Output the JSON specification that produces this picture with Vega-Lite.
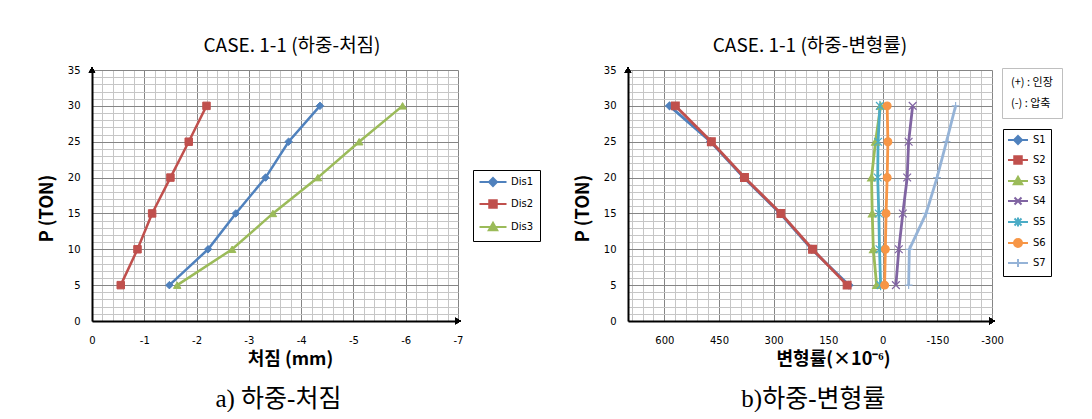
{
  "$schema": "https://vega.github.io/schema/vega-lite/v6.json",
  "background": "white",
  "padding": {"left": 38, "top": 37, "right": 0, "bottom": 0},
  "spacing": 33,
  "resolve": {
    "scale": {"color": "independent", "stroke": "independent", "shape": "independent", "x": "independent", "y": "independent"},
    "legend": {"color": "independent", "stroke": "independent", "shape": "independent"}
  },
  "datasets": {
    "dis": [
      {"series": "Dis1", "P": 5, "d": -1.48}, {"series": "Dis1", "P": 10, "d": -2.22}, {"series": "Dis1", "P": 15, "d": -2.75},
      {"series": "Dis1", "P": 20, "d": -3.32}, {"series": "Dis1", "P": 25, "d": -3.76}, {"series": "Dis1", "P": 30, "d": -4.36},
      {"series": "Dis2", "P": 5, "d": -0.55}, {"series": "Dis2", "P": 10, "d": -0.87}, {"series": "Dis2", "P": 15, "d": -1.15},
      {"series": "Dis2", "P": 20, "d": -1.5}, {"series": "Dis2", "P": 25, "d": -1.85}, {"series": "Dis2", "P": 30, "d": -2.19},
      {"series": "Dis3", "P": 5, "d": -1.63}, {"series": "Dis3", "P": 10, "d": -2.68}, {"series": "Dis3", "P": 15, "d": -3.46},
      {"series": "Dis3", "P": 20, "d": -4.32}, {"series": "Dis3", "P": 25, "d": -5.11}, {"series": "Dis3", "P": 30, "d": -5.94}
    ],
    "strain": [
      {"series": "S1", "P": 5, "e": 93}, {"series": "S1", "P": 10, "e": 195}, {"series": "S1", "P": 15, "e": 282},
      {"series": "S1", "P": 20, "e": 382}, {"series": "S1", "P": 25, "e": 473}, {"series": "S1", "P": 30, "e": 586},
      {"series": "S2", "P": 5, "e": 98}, {"series": "S2", "P": 10, "e": 193}, {"series": "S2", "P": 15, "e": 280},
      {"series": "S2", "P": 20, "e": 380}, {"series": "S2", "P": 25, "e": 471}, {"series": "S2", "P": 30, "e": 570},
      {"series": "S3", "P": 5, "e": 17}, {"series": "S3", "P": 10, "e": 26}, {"series": "S3", "P": 15, "e": 29},
      {"series": "S3", "P": 20, "e": 31}, {"series": "S3", "P": 25, "e": 20}, {"series": "S3", "P": 30, "e": 6},
      {"series": "S4", "P": 5, "e": -36}, {"series": "S4", "P": 10, "e": -44}, {"series": "S4", "P": 15, "e": -55},
      {"series": "S4", "P": 20, "e": -67}, {"series": "S4", "P": 25, "e": -71}, {"series": "S4", "P": 30, "e": -82},
      {"series": "S5", "P": 5, "e": 6}, {"series": "S5", "P": 10, "e": 9}, {"series": "S5", "P": 15, "e": 11},
      {"series": "S5", "P": 20, "e": 14}, {"series": "S5", "P": 25, "e": 13}, {"series": "S5", "P": 30, "e": 8},
      {"series": "S6", "P": 5, "e": -5}, {"series": "S6", "P": 10, "e": -7}, {"series": "S6", "P": 15, "e": -9},
      {"series": "S6", "P": 20, "e": -12}, {"series": "S6", "P": 25, "e": -14}, {"series": "S6", "P": 30, "e": -12},
      {"series": "S7", "P": 5, "e": -71}, {"series": "S7", "P": 10, "e": -73}, {"series": "S7", "P": 15, "e": -119},
      {"series": "S7", "P": 20, "e": -149}, {"series": "S7", "P": 25, "e": -175}, {"series": "S7", "P": 30, "e": -200}
    ],
    "notes": [
      {"note": "(+) : 인장"},
      {"note": "(-) : 압축"}
    ]
  },
  "hconcat": [
    {
      "title": {"text": "a)  하중-처짐", "orient": "bottom", "anchor": "middle", "font": "Liberation Serif, Noto Sans CJK KR", "fontSize": 25, "fontWeight": "normal", "offset": 19, "frame": "bounds", "dx": -11},
      "vconcat": [
        {
          "width": 366,
          "height": 251,
          "title": {"text": "CASE. 1-1 (하중-처짐)", "frame": "group", "anchor": "middle", "dx": 17, "offset": 9},
          "data": {"name": "dis"},
          "resolve": {
            "scale": {"color": "independent", "stroke": "independent", "shape": "independent"},
            "legend": {"color": "independent", "stroke": "independent", "shape": "independent"}
          },
          "encoding": {
            "x": {
              "field": "d", "type": "quantitative",
              "scale": {"domain": [-7, 0], "reverse": true, "nice": false, "zero": false},
              "axis": {
                "title": "처짐 (mm)",
                "values": [-7, -6.8, -6.6, -6.4, -6.2, -6, -5.8, -5.6, -5.4, -5.2, -5, -4.8, -4.6, -4.4, -4.2, -4, -3.8, -3.6, -3.4, -3.2, -3, -2.8, -2.6, -2.4, -2.2, -2, -1.8, -1.6, -1.4, -1.2, -1, -0.8, -0.6, -0.4, -0.2, 0],
                "gridColor": {"condition": {"test": "abs(datum.value - round(datum.value)) < 0.000001", "value": "#858585"}, "value": "#c6c6c6"},
                "labelExpr": "abs(datum.value - round(datum.value)) < 0.000001 ? '' + round(datum.value) : ''",
                "labelPadding": 14,
                "titlePadding": 5,
                "titleX": 198
              }
            },
            "y": {
              "field": "P", "type": "quantitative",
              "scale": {"domain": [0, 35], "nice": false},
              "axis": {
                "title": "P (TON)",
                "values": [0, 1, 2, 3, 4, 5, 6, 7, 8, 9, 10, 11, 12, 13, 14, 15, 16, 17, 18, 19, 20, 21, 22, 23, 24, 25, 26, 27, 28, 29, 30, 31, 32, 33, 34, 35],
                "gridColor": {"condition": {"test": "datum.value % 5 === 0", "value": "#858585"}, "value": "#c6c6c6"},
                "labelExpr": "datum.value % 5 === 0 ? '' + datum.value : ''",
                "labelPadding": 12,
                "titlePadding": 11,
                "titleY": 138
              }
            }
          },
          "layer": [
            {
              "mark": {"type": "line", "strokeWidth": 2.5},
              "encoding": {
                "color": {"field": "series", "type": "nominal", "scale": {"domain": ["Dis1", "Dis2", "Dis3"], "range": ["#4F81BD", "#C0504D", "#9BBB59"]}, "legend": null},
                "order": {"field": "P", "type": "quantitative"}
              }
            },
            {
              "mark": {"type": "point", "filled": true, "size": 56, "opacity": 1, "strokeWidth": 1},
              "encoding": {
                "color": {"field": "series", "type": "nominal", "scale": {"domain": ["Dis1", "Dis2", "Dis3"], "range": ["#4F81BD", "#C0504D", "#9BBB59"]}, "legend": null},
                "stroke": {"field": "series", "type": "nominal", "scale": {"domain": ["Dis1", "Dis2", "Dis3"], "range": ["#4F81BD", "#C0504D", "#9BBB59"]}, "legend": null},
                "shape": {"field": "series", "type": "nominal", "scale": {"domain": ["Dis1", "Dis2", "Dis3"], "range": ["diamond", "square", "triangle-up"]}, "legend": null}
              }
            },
            {
              "mark": {"type": "point", "filled": true, "size": 100, "opacity": 0, "strokeWidth": 2},
              "encoding": {
                "color": {
                  "field": "series", "type": "nominal",
                  "scale": {"domain": ["Dis1", "Dis2", "Dis3"], "range": ["#4F81BD", "#C0504D", "#9BBB59"]},
                  "legend": {
                    "orient": "none", "legendX": 381, "legendY": 100, "title": null,
                    "strokeColor": "black", "fillColor": "white", "padding": 6,
                    "labelFont": "DejaVu Sans", "labelFontSize": 10, "labelColor": "black",
                    "symbolSize": 100, "symbolOpacity": 1, "symbolStrokeWidth": 2, "symbolOffset": 8, "labelOffset": 12, "rowPadding": 6
                  }
                },
                "stroke": {
                  "field": "series", "type": "nominal",
                  "scale": {"domain": ["Dis1", "Dis2", "Dis3"], "range": ["#4F81BD", "#C0504D", "#9BBB59"]},
                  "legend": {
                    "orient": "none", "legendX": 381, "legendY": 100, "title": null,
                    "strokeColor": "black", "fillColor": "white", "padding": 6,
                    "labelFont": "DejaVu Sans", "labelFontSize": 10, "labelColor": "black",
                    "symbolSize": 100, "symbolOpacity": 1, "symbolStrokeWidth": 2, "symbolOffset": 8, "labelOffset": 12, "rowPadding": 6
                  }
                },
                "shape": {
                  "field": "series", "type": "nominal",
                  "scale": {"domain": ["Dis1", "Dis2", "Dis3"], "range": ["M-2.7,0L2.7,0M0,-0.8L0.8,0L0,0.8L-0.8,0Z", "M-2.7,0L2.7,0M-0.75,-0.75L0.75,-0.75L0.75,0.75L-0.75,0.75Z", "M-2.7,0L2.7,0M0,-0.85L0.85,0.65L-0.85,0.65Z"]},
                  "legend": null
                }
              }
            },
            {
              "mark": {"type": "point", "shape": "triangle-right", "filled": true, "color": "black", "opacity": 1, "size": 40},
              "encoding": {"x": {"datum": -7}, "y": {"datum": 0}}
            },
            {
              "mark": {"type": "point", "shape": "triangle-up", "filled": true, "color": "black", "opacity": 1, "size": 40},
              "encoding": {"x": {"datum": 0}, "y": {"datum": 35}}
            }
          ]
        }
      ]
    },
    {
      "title": {"text": "b)하중-변형률", "orient": "bottom", "anchor": "middle", "font": "Liberation Serif, Noto Sans CJK KR", "fontSize": 25, "fontWeight": "normal", "offset": 19, "frame": "bounds", "dx": -5},
      "vconcat": [
        {
          "width": 364,
          "height": 251,
          "title": {"text": "CASE. 1-1 (하중-변형률)", "frame": "group", "anchor": "middle", "dx": 0, "offset": 9},
          "data": {"name": "strain"},
          "resolve": {
            "scale": {"color": "independent", "stroke": "independent", "shape": "independent"},
            "legend": {"color": "independent", "stroke": "independent", "shape": "independent"}
          },
          "encoding": {
            "x": {
              "field": "e", "type": "quantitative",
              "scale": {"domain": [-300, 700], "reverse": true, "nice": false, "zero": false},
              "axis": {
                "title": "변형률(×10⁻⁶)",
                "values": [-300, -270, -240, -210, -180, -150, -120, -90, -60, -30, 0, 30, 60, 90, 120, 150, 180, 210, 240, 270, 300, 330, 360, 390, 420, 450, 480, 510, 540, 570, 600, 630, 660, 690, 700],
                "gridColor": {"condition": {"test": "datum.value % 150 === 0", "value": "#858585"}, "value": "#c6c6c6"},
                "labelExpr": "datum.value % 150 === 0 ? '' + datum.value : ''",
                "labelPadding": 14,
                "titlePadding": 5,
                "titleX": 205
              }
            },
            "y": {
              "field": "P", "type": "quantitative",
              "scale": {"domain": [0, 35], "nice": false},
              "axis": {
                "title": "P (TON)",
                "values": [0, 1, 2, 3, 4, 5, 6, 7, 8, 9, 10, 11, 12, 13, 14, 15, 16, 17, 18, 19, 20, 21, 22, 23, 24, 25, 26, 27, 28, 29, 30, 31, 32, 33, 34, 35],
                "gridColor": {"condition": {"test": "datum.value % 5 === 0", "value": "#858585"}, "value": "#c6c6c6"},
                "labelExpr": "datum.value % 5 === 0 ? '' + datum.value : ''",
                "labelPadding": 12,
                "titlePadding": 11,
                "titleY": 138
              }
            }
          },
          "layer": [
            {
              "mark": {"type": "line", "strokeWidth": 2.8},
              "encoding": {
                "color": {"field": "series", "type": "nominal", "scale": {"domain": ["S1", "S2", "S3", "S4", "S5", "S6", "S7"], "range": ["#4F81BD", "#C0504D", "#9BBB59", "#8064A2", "#4BACC6", "#F79646", "#95B3D7"]}, "legend": null},
                "order": {"field": "P", "type": "quantitative"}
              }
            },
            {
              "mark": {"type": "point", "filled": true, "size": 60, "opacity": 1, "strokeWidth": 1.2},
              "encoding": {
                "color": {"field": "series", "type": "nominal", "scale": {"domain": ["S1", "S2", "S3", "S4", "S5", "S6", "S7"], "range": ["#4F81BD", "#C0504D", "#9BBB59", "#8064A2", "#4BACC6", "#F79646", "#95B3D7"]}, "legend": null},
                "stroke": {"field": "series", "type": "nominal", "scale": {"domain": ["S1", "S2", "S3", "S4", "S5", "S6", "S7"], "range": ["#4F81BD", "#C0504D", "#9BBB59", "#8064A2", "#4BACC6", "#F79646", "#95B3D7"]}, "legend": null},
                "shape": {"field": "series", "type": "nominal", "scale": {"domain": ["S1", "S2", "S3", "S4", "S5", "S6", "S7"], "range": ["diamond", "square", "triangle-up", "M-1,-1L1,1M1,-1L-1,1", "M-1,-1L1,1M1,-1L-1,1M0,-1.3L0,1.3", "circle", "M-1,0L1,0M0,-1L0,1"]}, "legend": null}
              }
            },
            {
              "mark": {"type": "point", "filled": true, "size": 100, "opacity": 0, "strokeWidth": 2},
              "encoding": {
                "color": {
                  "field": "series", "type": "nominal",
                  "scale": {"domain": ["S1", "S2", "S3", "S4", "S5", "S6", "S7"], "range": ["#4F81BD", "#C0504D", "#9BBB59", "#8064A2", "#4BACC6", "#F79646", "#95B3D7"]},
                  "legend": {
                    "orient": "none", "legendX": 375, "legendY": 59, "title": null,
                    "strokeColor": "black", "fillColor": "white", "padding": 5,
                    "labelFont": "DejaVu Sans", "labelFontSize": 10, "labelColor": "black",
                    "symbolSize": 100, "symbolOpacity": 1, "symbolStrokeWidth": 2, "symbolOffset": 4, "labelOffset": 9, "rowPadding": 4
                  }
                },
                "stroke": {
                  "field": "series", "type": "nominal",
                  "scale": {"domain": ["S1", "S2", "S3", "S4", "S5", "S6", "S7"], "range": ["#4F81BD", "#C0504D", "#9BBB59", "#8064A2", "#4BACC6", "#F79646", "#95B3D7"]},
                  "legend": {
                    "orient": "none", "legendX": 375, "legendY": 59, "title": null,
                    "strokeColor": "black", "fillColor": "white", "padding": 5,
                    "labelFont": "DejaVu Sans", "labelFontSize": 10, "labelColor": "black",
                    "symbolSize": 100, "symbolOpacity": 1, "symbolStrokeWidth": 2, "symbolOffset": 4, "labelOffset": 9, "rowPadding": 4
                  }
                },
                "shape": {
                  "field": "series", "type": "nominal",
                  "scale": {"domain": ["S1", "S2", "S3", "S4", "S5", "S6", "S7"], "range": ["M-2,0L2,0M0,-0.8L0.8,0L0,0.8L-0.8,0Z", "M-2,0L2,0M-0.75,-0.75L0.75,-0.75L0.75,0.75L-0.75,0.75Z", "M-2,0L2,0M0,-0.85L0.85,0.65L-0.85,0.65Z", "M-2,0L2,0M-0.7,-0.7L0.7,0.7M0.7,-0.7L-0.7,0.7", "M-2,0L2,0M-0.7,-0.7L0.7,0.7M0.7,-0.7L-0.7,0.7M0,-0.9L0,0.9", "M-2,0L2,0M-0.8,0A0.8,0.8,0,1,1,0.8,0A0.8,0.8,0,1,1,-0.8,0Z", "M-2,0L2,0M0,-0.8L0,0.8"]},
                  "legend": null
                }
              }
            },
            {
              "data": {"name": "notes"},
              "mark": {"type": "point", "opacity": 0},
              "encoding": {
                "x": {"datum": 0},
                "y": {"datum": 0},
                "color": {
                  "field": "note", "type": "nominal",
                  "scale": {"range": ["white", "white"]},
                  "legend": {
                    "orient": "none", "legendX": 374, "legendY": -2,
                    "values": [],
                    "title": ["(+) : 인장", "(-) : 압축"],
                    "titleFont": "Noto Sans CJK KR", "titleFontSize": 11, "titleFontWeight": "normal", "titleColor": "black",
                    "titleLineHeight": 21, "titlePadding": 0,
                    "strokeColor": "#bfbfbf", "fillColor": "white", "padding": 9
                  }
                }
              }
            },
            {
              "mark": {"type": "point", "shape": "triangle-right", "filled": true, "color": "black", "opacity": 1, "size": 40},
              "encoding": {"x": {"datum": -300}, "y": {"datum": 0}}
            },
            {
              "mark": {"type": "point", "shape": "triangle-up", "filled": true, "color": "black", "opacity": 1, "size": 40},
              "encoding": {"x": {"datum": 700}, "y": {"datum": 35}}
            }
          ]
        }
      ]
    }
  ],
  "config": {
    "view": {"stroke": null},
    "title": {"font": "Noto Sans CJK KR", "fontSize": 19, "fontWeight": "normal", "color": "black"},
    "axis": {
      "ticks": false,
      "grid": true,
      "gridWidth": 1,
      "domainColor": "black",
      "domainWidth": 2,
      "labelFont": "DejaVu Sans",
      "labelFontSize": 10,
      "labelColor": "black",
      "labelOverlap": false,
      "labelFlush": false,
      "titleFont": "Noto Sans CJK KR",
      "titleFontSize": 18,
      "titleFontWeight": "bold",
      "titleColor": "black"
    }
  }
}
